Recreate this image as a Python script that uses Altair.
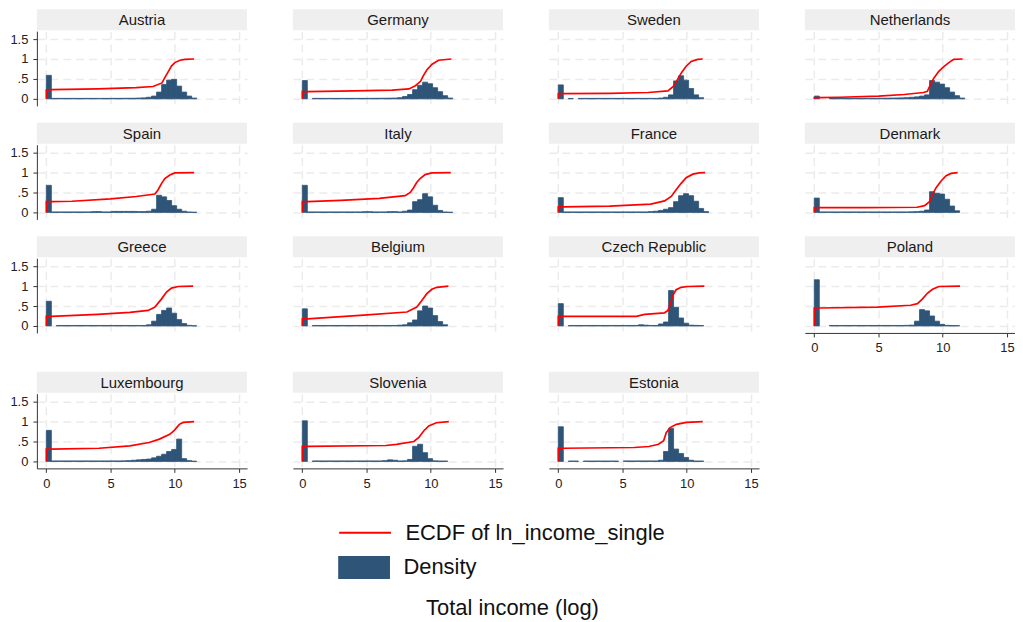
import altair as alt
import pandas as pd

FONT = "Liberation Sans, Arial, sans-serif"
BAR = "#2e5478"
RED = "#ff0000"

countries = ["Austria", "Germany", "Sweden", "Netherlands",
             "Spain", "Italy", "France", "Denmark",
             "Greece", "Belgium", "Czech Republic", "Poland",
             "Luxembourg", "Slovenia", "Estonia"]

BIN_W = 0.39  # histogram bin width (log income units), bins start at 0

# Histogram densities, bins 0..29
austria_hist = [0.59, 0.012, 0.012, 0.012, 0.012, 0.012, 0.012, 0.012, 0.012, 0.012, 0.012, 0.012, 0.012,
                0.013, 0.013, 0.014, 0.015, 0.016, 0.02, 0.025, 0.04,
                0.07, 0.17, 0.36, 0.47, 0.49, 0.32, 0.17, 0.07, 0.02]
germany_hist = [0.46, 0, 0.012, 0.012, 0.012, 0.012, 0.012, 0.012, 0.012, 0.012, 0.012, 0.012, 0.012,
                0.013, 0.014, 0.015, 0.016, 0.018,
                0.02, 0.03, 0.06, 0.11, 0.23, 0.34, 0.42, 0.38, 0.28, 0.18, 0.08, 0.02]
sweden_hist = [0.35, 0, 0.01, 0, 0.012, 0.012, 0.012, 0.012, 0.012, 0.012, 0.012, 0.012, 0.012, 0.012,
               0.012, 0.012, 0.012, 0.012, 0.012, 0.012,
               0.02, 0.04, 0.1, 0.45, 0.58, 0.47, 0.26, 0.1, 0.03, 0]
netherlands_hist = [0.07, 0, 0, 0.012, 0.012, 0.012, 0.012, 0.012, 0.012, 0.012, 0.012, 0.012, 0.012,
                    0.015, 0.018, 0.02, 0.022, 0.025, 0.03, 0.04, 0.05, 0.07, 0.1,
                    0.46, 0.42, 0.37, 0.28, 0.17, 0.08, 0.02]
spain_hist = [0.68, 0.012, 0.012, 0.012, 0.012, 0.012, 0.012, 0.012, 0.012, 0.02, 0.02, 0.012, 0.012,
              0.025, 0.025, 0.025, 0.025, 0.025, 0.02, 0.02,
              0.03, 0.08, 0.43, 0.39, 0.3, 0.17, 0.08, 0.03, 0.01, 0.005]
italy_hist = [0.68, 0.012, 0.012, 0.012, 0.012, 0.012, 0.012, 0.012, 0.012, 0.012, 0.012, 0.012, 0.018,
              0.018, 0.012, 0.012, 0.012, 0.02, 0.02, 0.012,
              0.03, 0.06, 0.27, 0.32, 0.47, 0.39, 0.18, 0.05, 0.01, 0.005]
france_hist = [0.37, 0.012, 0.012, 0.012, 0.012, 0.012, 0.012, 0.012, 0.012, 0.012, 0.012, 0.012, 0.012,
               0.012, 0.012, 0.012, 0.012, 0.012,
               0.02, 0.03, 0.05, 0.08, 0.12, 0.27, 0.42, 0.47, 0.42, 0.28, 0.1, 0.02]
denmark_hist = [0.36, 0.012, 0.012, 0.012, 0.012, 0.012, 0.012, 0.012, 0.012, 0.012, 0.012, 0.012, 0.012,
                0.012, 0.012, 0.012, 0.012, 0.012, 0.012,
                0.015, 0.02, 0.03, 0.06, 0.52, 0.48, 0.46, 0.33, 0.16, 0.04, 0]
greece_hist = [0.62, 0, 0.012, 0.012, 0.012, 0.012, 0.012, 0.012, 0.012, 0.012, 0.012, 0.012, 0.012,
               0.012, 0.012, 0.012, 0.012, 0.012, 0.012, 0.012,
               0.03, 0.12, 0.29, 0.39, 0.45, 0.32, 0.16, 0.06, 0.015, 0.005]
belgium_hist = [0.43, 0, 0.012, 0.012, 0.012, 0.012, 0.012, 0.012, 0.012, 0.012, 0.012, 0.012, 0.012,
                0.012, 0.012, 0.012, 0.012, 0.012, 0.012,
                0.02, 0.03, 0.08, 0.15, 0.38, 0.5, 0.45, 0.26, 0.11, 0.03, 0]
czech_hist = [0.56, 0, 0.012, 0.012, 0.012, 0.012, 0.012, 0.012, 0.012, 0.012, 0.012, 0.012, 0.012,
              0.012, 0.012, 0.012,
              0.03, 0.02, 0.012, 0.012, 0.05, 0.1, 0.89, 0.47, 0.2, 0.07, 0.02, 0.015, 0.01, 0]
poland_hist = [1.16, 0, 0, 0.012, 0.012, 0.012, 0.012, 0.012, 0.012, 0.012, 0.012, 0.012, 0.012,
               0.012, 0.012, 0.012, 0.012, 0.012,
               0.015, 0.02, 0.12, 0.41, 0.38, 0.25, 0.12, 0.04, 0.015, 0.01, 0.008, 0]
luxembourg_hist = [0.78, 0.012, 0.012, 0.012, 0.012, 0.012, 0.012, 0.012, 0.012, 0.012, 0.012, 0.012, 0.012,
                   0.012, 0.012,
                   0.015, 0.02, 0.03, 0.04, 0.05, 0.06, 0.09, 0.13, 0.18, 0.25, 0.3, 0.56, 0.07, 0.02, 0.005]
slovenia_hist = [1.02, 0, 0.012, 0.012, 0.012, 0.012, 0.012, 0.012, 0.012, 0.012, 0.012, 0.012, 0.012,
                 0.012, 0.012, 0.012,
                 0.02, 0.04, 0.03, 0.012, 0.015, 0.05, 0.38, 0.43, 0.22, 0.07, 0.015, 0.01, 0.01, 0]
estonia_hist = [0.87, 0, 0.01, 0.01, 0, 0.01, 0.01, 0.01, 0.01, 0.01, 0.01, 0.01, 0,
                0.012, 0.012, 0.012, 0.012, 0.012, 0.012, 0.012,
                0.03, 0.25, 0.83, 0.31, 0.2, 0.1, 0.03, 0.01, 0.01, 0]

# ECDF points
austria_ex = [0, 0, 0.4, 4, 7, 8.3, 9.0, 9.2, 9.5, 9.75, 10.0, 10.4, 10.8, 11.5]
austria_ey = [0, 0.22, 0.23, 0.25, 0.28, 0.31, 0.40, 0.52, 0.69, 0.83, 0.91, 0.97, 0.99, 1.0]
germany_ex = [0, 0, 0.4, 4, 7, 8.3, 8.8, 9.2, 9.4, 9.7, 10.1, 10.6, 11.6]
germany_ey = [0, 0.18, 0.18, 0.2, 0.22, 0.25, 0.33, 0.44, 0.57, 0.73, 0.87, 0.97, 1.0]
sweden_ex = [0, 0, 0.4, 4, 7, 8.53, 8.97, 9.3, 9.61, 9.95, 10.34, 10.85, 11.24]
sweden_ey = [0, 0.13, 0.13, 0.14, 0.16, 0.2, 0.32, 0.5, 0.67, 0.82, 0.94, 0.99, 1.0]
netherlands_ex = [0, 0, 0.3, 2, 5, 7, 8.5, 8.8, 9.04, 9.3, 9.69, 10.08, 10.47, 10.85, 11.55]
netherlands_ey = [0, 0.02, 0.03, 0.04, 0.07, 0.11, 0.16, 0.19, 0.36, 0.52, 0.69, 0.81, 0.91, 0.99, 1.0]
spain_ex = [0, 0, 0.4, 2, 5, 7, 8.45, 8.7, 8.97, 9.22, 9.61, 10.0, 11.5]
spain_ey = [0, 0.27, 0.27, 0.28, 0.34, 0.4, 0.46, 0.57, 0.73, 0.85, 0.94, 0.99, 1.0]
italy_ex = [0, 0, 0.4, 3, 6, 8.0, 8.4, 8.66, 8.9, 9.17, 9.56, 10.08, 11.55]
italy_ey = [0, 0.27, 0.27, 0.3, 0.35, 0.42, 0.5, 0.62, 0.75, 0.85, 0.95, 0.99, 1.0]
france_ex = [0, 0, 0.4, 4, 7.2, 8.27, 8.79, 9.17, 9.56, 9.95, 10.47, 10.98, 11.42]
france_ey = [0, 0.14, 0.14, 0.16, 0.21, 0.29, 0.4, 0.57, 0.73, 0.87, 0.96, 0.99, 1.0]
denmark_ex = [0, 0, 0.4, 4, 8.0, 8.58, 8.97, 9.22, 9.48, 9.87, 10.26, 10.65, 11.16]
denmark_ey = [0, 0.12, 0.12, 0.12, 0.13, 0.17, 0.27, 0.46, 0.62, 0.79, 0.92, 0.98, 1.0]
greece_ex = [0, 0, 0.4, 4, 6.5, 7.93, 8.45, 8.97, 9.35, 9.74, 10.26, 11.42]
greece_ey = [0, 0.24, 0.24, 0.29, 0.34, 0.39, 0.475, 0.68, 0.85, 0.95, 0.99, 1.0]
belgium_ex = [0, 0, 0.4, 4.78, 8.14, 8.91, 9.3, 9.69, 10.08, 10.47, 11.37]
belgium_ey = [0, 0.18, 0.18, 0.27, 0.35, 0.475, 0.64, 0.81, 0.92, 0.97, 1.0]
czech_ex = [0, 0, 0.4, 6.07, 6.72, 8.27, 8.53, 8.73, 8.91, 9.17, 9.56, 10.08, 11.37]
czech_ey = [0, 0.24, 0.24, 0.24, 0.29, 0.33, 0.39, 0.56, 0.77, 0.91, 0.97, 0.99, 1.0]
poland_ex = [0, 0, 0.4, 4.92, 7.5, 8.03, 8.42, 8.8, 9.2, 9.7, 11.35]
poland_ey = [0, 0.45, 0.45, 0.475, 0.52, 0.56, 0.68, 0.82, 0.92, 0.99, 1.0]
luxembourg_ex = [0, 0, 0.4, 4.1, 6.5, 8.0, 8.8, 9.6, 9.96, 10.35, 10.66, 11.5]
luxembourg_ey = [0, 0.31, 0.31, 0.33, 0.39, 0.475, 0.56, 0.68, 0.78, 0.93, 0.98, 1.0]
slovenia_ex = [0, 0, 0.4, 6.5, 7.33, 8.68, 9.07, 9.46, 9.84, 10.43, 11.4]
slovenia_ey = [0, 0.38, 0.38, 0.4, 0.43, 0.5, 0.6, 0.77, 0.89, 0.97, 1.0]
estonia_ex = [0, 0, 0.4, 5.9, 7.05, 7.8, 8.2, 8.4, 8.7, 9.2, 9.96, 11.24]
estonia_ey = [0, 0.33, 0.33, 0.35, 0.375, 0.43, 0.52, 0.72, 0.85, 0.93, 0.98, 1.0]

hists = [austria_hist, germany_hist, sweden_hist, netherlands_hist, spain_hist, italy_hist,
         france_hist, denmark_hist, greece_hist, belgium_hist, czech_hist, poland_hist,
         luxembourg_hist, slovenia_hist, estonia_hist]
ecdf_x = [austria_ex, germany_ex, sweden_ex, netherlands_ex, spain_ex, italy_ex, france_ex,
          denmark_ex, greece_ex, belgium_ex, czech_ex, poland_ex, luxembourg_ex, slovenia_ex, estonia_ex]
ecdf_y = [austria_ey, germany_ey, sweden_ey, netherlands_ey, spain_ey, italy_ey, france_ey,
          denmark_ey, greece_ey, belgium_ey, czech_ey, poland_ey, luxembourg_ey, slovenia_ey, estonia_ey]

S_ECDF = "ECDF of ln_income_single"
S_DENS = "Density"

hist_rows, ecdf_rows = [], []
for c, dens, ex, ey in zip(countries, hists, ecdf_x, ecdf_y):
    for k, d in enumerate(dens):
        if d > 0:
            hist_rows.append({"country": c, "x0": k * BIN_W, "x1": (k + 1) * BIN_W, "d": d, "s": S_DENS})
    for i, (xv, yv) in enumerate(zip(ex, ey)):
        ecdf_rows.append({"country": c, "i": i, "x": xv, "y": yv, "s": S_ECDF})
hist_df = pd.DataFrame(hist_rows)
ecdf_df = pd.DataFrame(ecdf_rows)

W, H = 211, 75
xscale = alt.Scale(domain=[-0.736, 15.62], nice=False, zero=False)
yscale = alt.Scale(domain=[-0.175, 1.7], nice=False, zero=False)
stroke_scale = alt.Scale(domain=[S_ECDF], range=[RED])
fill_scale = alt.Scale(domain=[S_DENS], range=[BAR])

RECT_PATH = "M-2.26,-1L2.26,-1L2.26,1L-2.26,1Z"
LINE_PATH = "M-2.26,0L2.26,0"
LEG_X, LEG_Y = 317, 491
common_leg = dict(title=None, orient="none", direction="vertical", symbolSize=529,
                  labelFont=FONT, labelFontSize=22, labelColor="#111", labelLimit=500,
                  labelOffset=28)
line_legend = alt.Legend(legendX=LEG_X, legendY=LEG_Y, symbolType=LINE_PATH,
                         symbolStrokeWidth=2, symbolStrokeColor=RED, **common_leg)
bar_legend = alt.Legend(legendX=LEG_X, legendY=LEG_Y + 36, symbolType=RECT_PATH,
                        symbolStrokeWidth=0, symbolFillColor=BAR, symbolOpacity=1, **common_leg)


def panel(c, show_y, show_x):
    hd = hist_df[hist_df["country"] == c]
    ed = ecdf_df[ecdf_df["country"] == c]
    xaxis = alt.Axis(values=[0, 5, 10, 15], grid=True, labels=show_x, ticks=show_x,
                     domain=show_x, title=None, labelFlush=False)
    yaxis = alt.Axis(values=[0, 0.5, 1, 1.5], grid=True, labels=show_y, ticks=show_y,
                     domain=show_y, title=None,
                     labelExpr="datum.value == 0.5 ? '.5' : toString(datum.value)")
    strip = alt.Chart(pd.DataFrame({"t": [c]})).mark_rect(color="#efefef").encode(
        x=alt.value(0), x2=alt.value(W), y=alt.value(-22), y2=alt.value(-1))
    label = alt.Chart(pd.DataFrame({"t": [c]})).mark_text(
        font=FONT, fontSize=15, color="#1a1a1a", baseline="middle", align="center").encode(
        x=alt.value(W / 2), y=alt.value(-11), text="t:N")
    bars = alt.Chart(hd).mark_rect(stroke=BAR, strokeWidth=0.8).encode(
        x=alt.X("x0:Q", scale=xscale, axis=xaxis),
        x2="x1:Q",
        y=alt.Y("d:Q", scale=yscale, axis=yaxis),
        y2=alt.datum(0),
        fill=alt.Fill("s:N", scale=fill_scale, legend=bar_legend),
    )
    line = alt.Chart(ed).mark_line(strokeWidth=1.7).encode(
        x=alt.X("x:Q", scale=xscale, axis=xaxis),
        y=alt.Y("y:Q", scale=yscale, axis=yaxis),
        order="i:Q",
        stroke=alt.Stroke("s:N", scale=stroke_scale, legend=line_legend),
    )
    return alt.layer(strip, label, bars, line).properties(width=W, height=H)


grid_rows = [countries[0:4], countries[4:8], countries[8:12], countries[12:15]]
rows = []
for r, names in enumerate(grid_rows):
    panels = []
    for col, c in enumerate(names):
        show_x = (r == 3) or (r == 2 and col == 3)
        panels.append(panel(c, col == 0, show_x))
    rows.append(alt.hconcat(*panels, spacing=46))

chart = alt.vconcat(*rows, spacing=17).properties(
    title=alt.TitleParams("Total income (log)", orient="bottom", anchor="middle", fontSize=22,
                          font=FONT, fontWeight="normal", color="#111", offset=19),
    padding={"left": 1, "right": 0, "top": 0, "bottom": 2},
).configure_view(stroke=None).configure_axis(
    gridColor="#ebebeb", gridDash=[8, 5], gridWidth=1.5,
    domainColor="#333333", tickColor="#333333", domainWidth=1, tickWidth=1,
    labelColor="#222222", labelFont=FONT, labelFontSize=13, tickSize=4, labelPadding=5,
)

chart.save("out.html", embed_options={"renderer": "svg", "actions": False})
